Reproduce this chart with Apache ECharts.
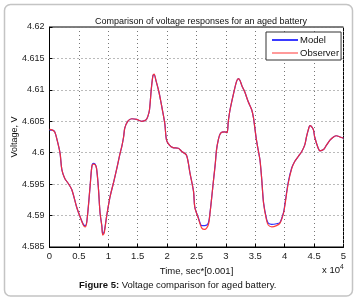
<!DOCTYPE html>
<html>
<head>
<meta charset="utf-8">
<script src="https://cdn.jsdelivr.net/npm/echarts@6/dist/echarts.min.js"></script>
<style>html,body{margin:0;padding:0;background:#fff;}#c{width:357px;height:304px;}</style>
</head>
<body>
<div id="c"></div>
<script>
const times = [0.00,0.05,0.09,0.13,0.18,0.21,0.26,0.32,0.38,0.46,0.52,0.575,0.605,0.635,0.69,0.72,0.745,0.775,0.80,0.83,0.86,0.89,0.905,0.93,0.97,1.03,1.085,1.14,1.20,1.23,1.26,1.28,1.33,1.40,1.48,1.57,1.64,1.67,1.70,1.73,1.76,1.78,1.81,1.86,1.90,1.96,1.99,2.04,2.10,2.19,2.25,2.33,2.39,2.45,2.47,2.53,2.59,2.64,2.70,2.73,2.76,2.79,2.82,2.84,2.87,2.91,2.98,3.02,3.04,3.07,3.13,3.18,3.21,3.24,3.27,3.32,3.38,3.44,3.47,3.49,3.52,3.55,3.58,3.61,3.64,3.69,3.72,3.78,3.86,3.92,3.98,4.00,4.06,4.12,4.17,4.23,4.29,4.34,4.37,4.40,4.43,4.46,4.49,4.51,4.57,4.60,4.66,4.71,4.77,4.83,4.88,4.94,5.00];
const observer = [4.6037,4.6036,4.6033,4.6020,4.5999,4.5973,4.5959,4.5951,4.5941,4.5914,4.5898,4.5885,4.5882,4.5890,4.5946,4.5978,4.5982,4.5981,4.5975,4.5946,4.5904,4.5883,4.5869,4.5872,4.5898,4.5930,4.5951,4.5973,4.5999,4.6010,4.6025,4.6039,4.6050,4.6054,4.6053,4.6050,4.6052,4.6057,4.6068,4.6100,4.6123,4.6125,4.6115,4.6097,4.6078,4.6047,4.6020,4.6012,4.6008,4.6007,4.6002,4.5996,4.5967,4.5938,4.5914,4.5896,4.5880,4.5878,4.5885,4.5904,4.5930,4.5957,4.5983,4.6004,4.6020,4.6031,4.6033,4.6032,4.6049,4.6068,4.6094,4.6113,4.6118,4.6115,4.6107,4.6097,4.6081,4.6068,4.6055,4.6041,4.6020,4.6004,4.5988,4.5957,4.5920,4.5893,4.5885,4.5882,4.5884,4.5888,4.5904,4.5914,4.5951,4.5975,4.5986,4.5994,4.6002,4.6012,4.6025,4.6036,4.6043,4.6041,4.6036,4.6025,4.6007,4.6003,4.6005,4.6012,4.6020,4.6025,4.6027,4.6025,4.6023];
const model = [4.6036,4.6036,4.6033,4.6020,4.5999,4.5973,4.5959,4.5951,4.5941,4.5914,4.5898,4.5886,4.5884,4.5891,4.5946,4.5978,4.5983,4.5982,4.5975,4.5946,4.5904,4.5884,4.5871,4.5874,4.5898,4.5930,4.5951,4.5973,4.5999,4.6010,4.6025,4.6039,4.6050,4.6054,4.6053,4.6050,4.6052,4.6057,4.6068,4.6100,4.6123,4.6124,4.6115,4.6097,4.6078,4.6047,4.6020,4.6012,4.6008,4.6007,4.6002,4.5996,4.5967,4.5938,4.5914,4.5897,4.5884,4.5884,4.5888,4.5905,4.5930,4.5957,4.5983,4.6004,4.6020,4.6031,4.6033,4.6032,4.6049,4.6068,4.6094,4.6113,4.6118,4.6115,4.6107,4.6097,4.6081,4.6068,4.6055,4.6041,4.6020,4.6004,4.5988,4.5957,4.5921,4.5895,4.5888,4.5886,4.5887,4.5889,4.5905,4.5916,4.5953,4.5976,4.5986,4.5994,4.6002,4.6012,4.6025,4.6036,4.6043,4.6041,4.6036,4.6025,4.6007,4.6003,4.6005,4.6012,4.6020,4.6025,4.6027,4.6025,4.6023];
const seriesNames = ['Model','Observer'];
const titleText = 'Comparison of voltage responses for an aged battery';
const xName = 'Time, sec*[0.001]';
const yName = 'Voltage, V';

const FONT = '"Liberation Sans", Arial, sans-serif';
const chart = echarts.init(document.getElementById('c'), null, {renderer:'canvas'});
const toPairs = arr => times.map((t,i)=>[t, arr[i]]);

chart.setOption({
  animation: false,
  backgroundColor: '#fff',
  textStyle: {fontFamily: FONT},
  title: {
    text: titleText, left: 196, top: 12, textAlign: 'center',
    textStyle: {fontSize: 9, fontWeight: 'normal', color: '#111', fontFamily: FONT}
  },
  grid: {left: 49.5, right: 13.5, top: 27, bottom: 57, show: true, borderColor: '#000', borderWidth: 1,
         containLabel: false, outerBoundsMode: 'none'},
  legend: {
    orient: 'vertical', left: 266, top: 32,
    backgroundColor: '#fff', borderColor: '#333', borderWidth: 1, borderRadius: 0,
    padding: [3, 2, 2, 6], itemGap: 3, itemWidth: 26, itemHeight: 2, icon: 'rect',
    textStyle: {fontSize: 9.5, color: '#111', fontFamily: FONT, padding: [0,0,0,-3]},
    data: [
      {name: seriesNames[0], itemStyle: {color: '#3a3aff'}},
      {name: seriesNames[1], itemStyle: {color: '#ff9a9a'}}
    ]
  },
  xAxis: {
    type: 'value', min: 0, max: 5, interval: 0.5,
    axisLine: {show: true, lineStyle: {color: '#000', width: 1}},
    axisTick: {show: true, inside: true, length: 3, lineStyle: {color: '#000'}},
    axisLabel: {fontSize: 9.5, color: '#222', margin: 4, fontFamily: FONT},
    splitLine: {show: true, lineStyle: {color: '#777', type: [1, 3], width: 1}},
    name: xName, nameLocation: 'middle', nameGap: 14,
    nameTextStyle: {fontSize: 9.5, color: '#111', fontFamily: FONT}
  },
  yAxis: {
    type: 'value', min: 4.585, max: 4.62, interval: 0.005,
    axisLine: {show: true, lineStyle: {color: '#000', width: 1}},
    axisTick: {show: true, inside: true, length: 3, lineStyle: {color: '#000'}},
    axisLabel: {fontSize: 9, color: '#222', margin: 5, fontFamily: FONT},
    splitLine: {show: true, lineStyle: {color: '#777', type: [1, 3], width: 1}},
    name: yName, nameLocation: 'middle', nameGap: 30, nameRotate: 90, nameMoveOverlap: false,
    nameTextStyle: {fontSize: 9, color: '#111', fontFamily: FONT}
  },
  series: [
    {name: seriesNames[0], type: 'line', data: toPairs(model), showSymbol: false, symbol: 'none', smooth: 0.3,
     lineStyle: {color: '#3030ff', width: 1.2}, itemStyle: {color: '#3030ff'}, z: 2},
    {name: seriesNames[1], type: 'line', data: toPairs(observer), showSymbol: false, symbol: 'none', smooth: 0.3,
     lineStyle: {color: '#ff2a2a', width: 1.2, opacity: 0.9}, itemStyle: {color: '#ff9a9a'}, z: 3}
  ],
  graphic: [
    {type: 'rect', shape: {x: 4.5, y: 4.5, width: 348, height: 291.5, r: 6}, silent: true,
     style: {fill: 'none', stroke: '#c4c4c4', lineWidth: 1.5}, z: -1},
    {type: 'text', left: 322, top: 264,
     style: {text: 'x 10{s|4}', font: '9.5px ' + FONT, fill: '#111',
       rich: {s: {fontSize: 6.5, verticalAlign: 'top', padding: [0,0,5,0], fill: '#111'}}}},
    {type: 'text', left: 79, top: 280,
     style: {text: '{b|Figure 5:} Voltage comparison for aged battery.', font: '9.5px ' + FONT, fill: '#111',
       rich: {b: {fontWeight: 'bold', fontSize: 9.5, fill: '#111', fontFamily: FONT}}}}
  ]
});
</script>
</body>
</html>
